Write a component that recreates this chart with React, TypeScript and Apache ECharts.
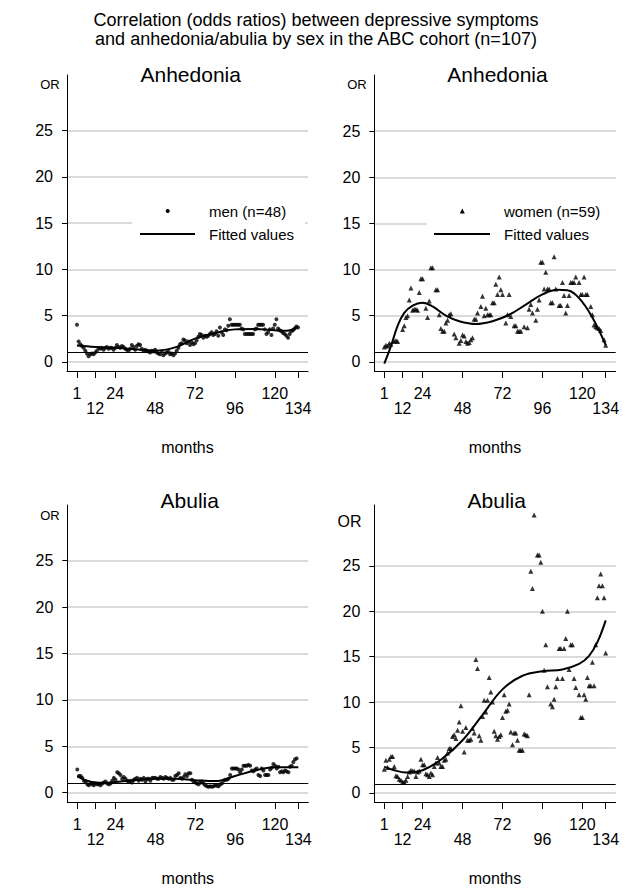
import React, { useEffect, useRef } from "react";
import * as echarts from "echarts";

const FONT = '"Liberation Sans", Arial, Helvetica, sans-serif';

const MAIN_TITLE = [
  "Correlation (odds ratios) between depressive symptoms",
  "and anhedonia/abulia by sex in the ABC cohort (n=107)",
];
const MONTH_TICKS = [1, 12, 24, 48, 72, 96, 120, 134];
const UPPER_ROW_TICKS = [1, 24, 72, 120];
const LOWER_ROW_TICKS = [12, 48, 96, 134];
const OR_TICKS = [0, 5, 10, 15, 20, 25];
const REF_OR = 1;
const MEN_NAME = "men (n=48)";
const WOMEN_NAME = "women (n=59)";
const FIT_NAME = "Fitted values";

// [month, OR]
const menAnhedonia: [number, number][] = [
  [1, 4.0], [2, 2.2], [3, 1.9], [4, 1.7], [5, 1.5], [6, 1.2], [7, 0.9], [8, 0.6], [9, 0.8], [10, 0.9],
  [11, 0.8], [12, 1.0], [13, 1.2], [14, 1.5], [15, 1.4], [16, 1.5], [17, 1.3], [18, 1.5], [19, 1.6], [20, 1.4],
  [21, 1.5], [22, 1.5], [23, 1.3], [24, 1.5], [25, 1.8], [26, 1.6], [27, 1.5], [28, 1.7], [29, 1.6], [30, 1.4],
  [31, 1.3], [32, 1.2], [33, 1.4], [34, 1.8], [35, 1.6], [36, 1.3], [37, 1.7], [38, 1.9], [39, 1.8], [40, 1.4],
  [41, 1.2], [42, 1.3], [43, 1.2], [44, 1.1], [45, 1.0], [46, 1.2], [47, 1.1], [48, 1.3], [49, 1.0], [50, 0.9],
  [51, 0.8], [52, 1.1], [53, 0.7], [54, 0.9], [55, 1.0], [56, 1.1], [57, 0.8], [58, 0.9], [59, 0.7], [60, 0.9],
  [61, 1.2], [62, 1.5], [63, 1.9], [64, 2.0], [65, 2.4], [66, 2.3], [67, 2.0], [68, 2.2], [69, 1.8], [70, 2.1],
  [71, 1.9], [72, 2.0], [73, 2.3], [74, 2.7], [75, 3.0], [76, 2.9], [77, 2.6], [78, 2.8], [79, 2.7], [80, 2.8],
  [81, 3.0], [82, 3.2], [83, 2.9], [84, 3.0], [85, 3.3], [86, 2.8], [87, 3.7], [88, 3.2], [89, 2.9], [90, 3.5],
  [91, 3.4], [92, 3.9], [93, 4.6], [94, 4.0], [95, 4.0], [96, 4.0], [97, 4.0], [98, 4.0], [99, 4.0], [100, 3.6],
  [101, 3.5], [102, 3.0], [103, 3.0], [104, 3.0], [105, 3.0], [106, 3.0], [107, 3.0], [108, 3.5], [109, 3.6], [110, 4.0],
  [111, 4.0], [112, 4.0], [113, 4.0], [114, 3.5], [115, 3.0], [116, 3.2], [117, 3.5], [118, 2.9], [119, 3.6], [120, 4.0],
  [121, 4.6], [122, 3.6], [123, 3.4], [124, 3.3], [125, 3.1], [126, 3.0], [127, 2.8], [128, 2.6], [129, 3.0], [130, 3.3],
  [131, 3.4], [132, 3.6], [133, 3.8], [134, 3.7],
];
const menAnhedoniaFit: [number, number][] = [
  [1, 1.75], [12, 1.6], [24, 1.5], [36, 1.35], [48, 1.2], [60, 1.55], [72, 2.5], [84, 3.1],
  [96, 3.5], [108, 3.55], [120, 3.4], [127, 3.35], [134, 3.8],
];

const womenAnhedonia: [number, number][] = [
  [1, 1.6], [2, 1.8], [3, 1.7], [4, 2.0], [5, 1.9], [7, 2.2], [8, 2.3], [9, 2.2], [12, 3.5], [13, 3.9],
  [14, 4.8], [15, 5.0], [16, 6.7], [17, 8.0], [18, 5.6], [19, 5.7], [20, 5.7], [21, 5.6], [22, 7.5], [23, 9.0],
  [24, 9.0], [26, 5.8], [27, 4.8], [28, 6.6], [29, 10.2], [30, 10.2], [32, 7.8], [33, 7.8], [34, 5.1], [35, 3.6],
  [36, 3.3], [37, 3.3], [38, 4.2], [39, 4.5], [40, 5.1], [41, 5.2], [43, 3.0], [44, 2.6], [46, 2.0], [47, 2.3],
  [48, 2.9], [49, 2.8], [50, 2.2], [51, 2.0], [52, 2.1], [53, 2.4], [54, 2.6], [55, 4.6], [56, 4.6], [57, 5.3],
  [59, 6.0], [60, 7.1], [61, 5.0], [62, 5.8], [63, 5.1], [64, 5.1], [65, 5.1], [66, 6.4], [67, 6.4], [68, 8.4],
  [69, 7.3], [70, 9.2], [71, 7.8], [72, 7.3], [74, 4.2], [75, 5.1], [76, 7.3], [77, 4.9], [79, 3.9], [80, 3.9],
  [81, 3.3], [82, 3.3], [83, 3.3], [85, 3.8], [87, 3.7], [88, 5.7], [89, 6.2], [90, 5.3], [92, 4.5], [93, 5.7],
  [94, 6.7], [95, 10.8], [96, 10.8], [97, 7.9], [98, 9.7], [99, 7.9], [100, 7.9], [101, 6.4], [102, 6.4], [103, 11.4],
  [104, 7.9], [106, 6.1], [107, 6.1], [108, 8.6], [109, 7.2], [110, 5.3], [111, 6.1], [112, 7.2], [113, 8.6], [114, 8.6],
  [115, 8.6], [116, 9.2], [118, 8.6], [119, 7.3], [120, 7.3], [121, 9.2], [122, 7.3], [123, 7.3], [125, 6.0], [126, 5.1],
  [127, 4.0], [128, 3.8], [129, 3.7], [130, 3.6], [131, 3.4], [133, 2.4], [134, 1.8],
];
const womenAnhedoniaFit: [number, number][] = [
  [1, -0.2], [5, 1.7], [9, 3.9], [13, 5.3], [18, 6.1], [24, 6.4], [30, 6.0], [38, 5.0], [46, 4.4],
  [56, 4.1], [66, 4.4], [76, 5.1], [86, 6.2], [96, 7.3], [105, 7.8], [111, 7.75], [118, 6.9], [126, 4.8], [134, 1.8],
];

const menAbulia: [number, number][] = [
  [1, 2.5], [2, 1.8], [3, 1.8], [4, 1.6], [5, 1.3], [6, 1.2], [7, 0.9], [8, 0.8], [9, 1.0], [10, 0.9],
  [11, 0.8], [12, 1.0], [13, 0.9], [14, 0.9], [15, 0.8], [16, 1.0], [17, 1.1], [18, 1.2], [19, 1.0], [20, 0.9],
  [21, 1.0], [22, 1.3], [23, 1.6], [24, 1.4], [25, 2.2], [26, 2.1], [27, 1.9], [28, 1.5], [29, 1.7], [30, 1.5],
  [31, 1.3], [32, 1.2], [33, 1.3], [34, 1.1], [35, 1.4], [36, 1.5], [37, 1.6], [38, 1.3], [39, 1.5], [40, 1.4],
  [41, 1.6], [42, 1.2], [43, 1.5], [44, 1.5], [45, 1.3], [46, 1.6], [47, 1.6], [48, 1.6], [49, 1.5], [50, 1.5],
  [51, 1.7], [52, 1.6], [53, 1.5], [54, 1.7], [55, 1.6], [56, 1.5], [57, 1.6], [58, 1.4], [59, 1.4], [60, 1.8],
  [61, 1.9], [62, 2.1], [63, 1.6], [64, 1.5], [65, 1.7], [66, 2.0], [67, 1.8], [68, 2.1], [69, 2.1], [70, 1.4],
  [71, 1.2], [72, 1.1], [73, 1.0], [74, 0.9], [75, 1.1], [76, 1.2], [77, 1.0], [78, 0.8], [79, 0.7], [80, 0.65],
  [81, 0.7], [82, 0.65], [83, 0.7], [84, 0.8], [85, 0.75], [86, 0.7], [87, 0.9], [88, 1.0], [89, 1.3], [90, 1.4],
  [91, 1.4], [92, 1.5], [93, 1.9], [94, 2.6], [95, 2.6], [96, 2.6], [97, 2.6], [98, 2.5], [99, 2.2], [100, 2.5],
  [101, 2.9], [102, 2.9], [103, 2.9], [104, 3.0], [105, 2.9], [106, 2.4], [107, 2.3], [108, 2.5], [109, 2.6], [110, 1.9],
  [111, 1.8], [112, 2.6], [113, 2.4], [114, 1.9], [115, 1.9], [116, 1.9], [117, 2.5], [118, 2.7], [119, 3.1], [120, 2.9],
  [121, 2.6], [122, 2.8], [123, 2.2], [124, 2.3], [125, 2.2], [126, 2.4], [127, 2.3], [128, 2.2], [129, 2.8], [130, 2.9],
  [131, 3.3], [132, 3.6], [133, 3.7],
];
const menAbuliaFit: [number, number][] = [
  [1, 1.75], [6, 1.35], [12, 1.1], [18, 1.05], [24, 1.15], [36, 1.35], [48, 1.5], [60, 1.5],
  [72, 1.35], [84, 1.25], [96, 1.8], [108, 2.4], [120, 2.75], [134, 2.75],
];

const womenAbulia: [number, number][] = [
  [1, 2.6], [2, 3.6], [3, 2.8], [4, 3.7], [5, 4.0], [6, 4.0], [7, 2.9], [8, 1.9], [9, 1.8], [10, 1.5],
  [11, 1.4], [12, 1.2], [13, 1.2], [14, 1.4], [15, 1.8], [16, 2.3], [17, 2.5], [18, 2.4], [19, 2.4], [20, 1.8],
  [21, 2.3], [22, 2.4], [23, 3.7], [24, 3.1], [25, 3.1], [26, 2.1], [27, 2.0], [28, 1.8], [29, 2.2], [30, 2.0],
  [31, 2.9], [32, 3.3], [33, 3.9], [34, 3.3], [35, 2.9], [36, 2.9], [37, 3.6], [38, 3.7], [39, 4.4], [40, 4.9],
  [41, 4.9], [42, 6.2], [43, 6.4], [44, 6.0], [45, 6.9], [46, 7.8], [47, 9.6], [48, 6.8], [49, 4.5], [50, 7.2],
  [51, 5.8], [52, 5.8], [53, 5.9], [54, 7.1], [55, 6.6], [56, 14.7], [57, 13.7], [58, 6.3], [59, 5.8], [60, 8.4],
  [61, 10.2], [62, 8.9], [63, 10.2], [64, 12.7], [65, 11.1], [66, 10.0], [67, 6.8], [68, 6.3], [69, 5.9], [70, 6.2],
  [71, 6.4], [72, 8.3], [73, 10.8], [74, 9.0], [75, 9.1], [76, 9.8], [77, 6.7], [78, 5.3], [79, 6.6], [80, 6.6],
  [81, 5.8], [82, 4.7], [83, 4.7], [84, 4.7], [85, 6.5], [86, 6.4], [87, 6.3], [88, 10.8], [89, 24.4], [90, 22.5],
  [91, 30.6], [93, 26.2], [94, 26.2], [95, 25.4], [96, 20.0], [97, 13.5], [98, 16.3], [99, 11.7], [101, 9.8], [102, 9.5],
  [103, 10.3], [104, 11.7], [105, 12.6], [106, 15.9], [107, 15.9], [108, 12.6], [109, 15.9], [110, 17.0], [111, 20.0], [112, 13.6],
  [113, 16.3], [114, 16.3], [115, 12.6], [116, 11.6], [118, 10.8], [119, 8.3], [120, 8.3], [121, 10.8], [122, 10.3], [123, 12.7],
  [124, 11.8], [125, 11.8], [126, 14.4], [127, 11.8], [128, 16.3], [129, 21.5], [130, 22.8], [131, 24.1], [132, 22.8], [133, 21.5],
  [134, 15.4],
];
const womenAbuliaFit: [number, number][] = [
  [1, 2.9], [7, 2.5], [14, 2.25], [24, 2.5], [36, 3.8], [48, 5.8], [60, 8.6], [72, 11.4], [84, 12.9],
  [96, 13.4], [108, 13.6], [118, 14.2], [124, 15.1], [129, 16.6], [134, 19.0],
];

const PANELS = [
  { title: "Anhedonia", name: MEN_NAME, points: menAnhedonia, fit: menAnhedoniaFit, symbol: "circle", size: 4,
    left: 67, top: 75, width: 241, height: 296, yMax: 31, titleX: 190.7, titleY: 74, orX: 50, orY: 84, orSize: 13,
    legend: { box: [132.3, 199, 172.7, 48], marker: [167.7, 211], line: [140, 195, 234], textX: 209 } },
  { title: "Anhedonia", name: WOMEN_NAME, points: womenAnhedonia, fit: womenAnhedoniaFit, symbol: "triangle", size: 5,
    left: 374.3, top: 75, width: 241.4, height: 296, yMax: 31.1, titleX: 497.5, titleY: 74, orX: 357, orY: 84, orSize: 13,
    legend: { box: [426.7, 199, 188.5, 48], marker: [462.3, 211], line: [434, 490, 234], textX: 504 } },
  { title: "Abulia", name: MEN_NAME, points: menAbulia, fit: menAbuliaFit, symbol: "circle", size: 4,
    left: 67.3, top: 505, width: 241, height: 297, yMax: 31, titleX: 189.7, titleY: 500, orX: 50, orY: 515, orSize: 13,
    legend: null },
  { title: "Abulia", name: WOMEN_NAME, points: womenAbulia, fit: womenAbuliaFit, symbol: "triangle", size: 5,
    left: 374.3, top: 505, width: 241.4, height: 297, yMax: 31.7, titleX: 496.7, titleY: 500, orX: 349.5, orY: 521.7, orSize: 16,
    legend: null },
];

function textEl(text: string, x: number, y: number, size: number, align = "center") {
  return {
    type: "text",
    x,
    y,
    silent: true,
    z: 10,
    style: {
      text,
      fill: "#000",
      font: `${size}px ${FONT}`,
      align,
      verticalAlign: "middle",
      textAlign: align,
      textVerticalAlign: "middle",
    },
  };
}

function legendEls(p: any) {
  const L = p.legend;
  const [bx, by, bw, bh] = L.box;
  const [mx, my] = L.marker;
  const [lx1, lx2, ly] = L.line;
  const els: any[] = [
    { type: "rect", silent: true, z: 9, shape: { x: bx, y: by, width: bw, height: bh }, style: { fill: "#fff" } },
    { type: "line", silent: true, z: 10, shape: { x1: lx1, y1: ly, x2: lx2, y2: ly }, style: { stroke: "#000", lineWidth: 2 } },
    textEl(p.name, L.textX, my, 15, "left"),
    textEl(FIT_NAME, L.textX, ly, 15, "left"),
  ];
  if (p.symbol === "circle") {
    els.push({ type: "circle", silent: true, z: 10, shape: { cx: mx, cy: my, r: p.size / 2 }, style: { fill: "#000" } });
  } else {
    const h = p.size / 2;
    els.push({
      type: "polygon", silent: true, z: 10,
      shape: { points: [[mx, my - h], [mx + h, my + h], [mx - h, my + h]] },
      style: { fill: "#000" },
    });
  }
  return els;
}

function buildOption() {
  const grid = PANELS.map((p) => ({
    left: p.left, top: p.top, width: p.width, height: p.height,
    containLabel: false, outerBoundsMode: "none",
  }));
  const xAxis: any[] = [];
  PANELS.forEach((p, i) => {
    // main month axis: line, all ticks, upper row of labels, axis title
    xAxis.push({
      type: "value", gridIndex: i, min: -5, max: 140, position: "bottom",
      axisLine: { show: true, onZero: false, lineStyle: { color: "#000", width: 1 } },
      axisTick: { show: true, customValues: MONTH_TICKS, length: 7, lineStyle: { color: "#000", width: 1 } },
      axisLabel: {
        customValues: UPPER_ROW_TICKS, hideOverlap: false,
        fontSize: 16, color: "#000", fontFamily: FONT, margin: 14,
      },
      splitLine: { show: false },
      name: "months", nameLocation: "middle", nameGap: 68, nameMoveOverlap: false,
      nameTextStyle: { fontSize: 16, color: "#000", fontFamily: FONT },
    });
    // companion axis carrying the staggered lower row of labels
    xAxis.push({
      type: "value", gridIndex: i, min: -5, max: 140, position: "bottom",
      axisLine: { show: false, onZero: false },
      axisTick: { show: false },
      axisLabel: {
        customValues: LOWER_ROW_TICKS, hideOverlap: false,
        fontSize: 16, color: "#000", fontFamily: FONT, margin: 29,
      },
      splitLine: { show: false },
    });
  });
  const yAxis = PANELS.map((p, i) => ({
    type: "value", gridIndex: i, min: -1, max: p.yMax,
    axisLine: { show: true, onZero: false, lineStyle: { color: "#000", width: 1 } },
    axisTick: { show: true, customValues: OR_TICKS, length: 5, lineStyle: { color: "#000", width: 1 } },
    axisLabel: { customValues: OR_TICKS, hideOverlap: false, fontSize: 16, color: "#000", fontFamily: FONT, margin: 14 },
    splitLine: { show: true, lineStyle: { color: "#cfcfcf", width: 1.5 } },
  }));
  const series: any[] = [];
  PANELS.forEach((p, i) => {
    series.push({
      type: "scatter", name: p.name, xAxisIndex: 2 * i, yAxisIndex: i,
      data: p.points, symbol: p.symbol, symbolSize: p.size,
      itemStyle: { color: "#000" }, z: 3,
      markLine: {
        silent: true, symbol: "none", label: { show: false },
        lineStyle: { color: "#000", width: 1.2, type: "solid" },
        emphasis: { disabled: true },
        data: [{ yAxis: REF_OR }],
      },
    });
    series.push({
      type: "line", name: FIT_NAME, xAxisIndex: 2 * i, yAxisIndex: i,
      data: p.fit, smooth: 0.4, symbol: "none", showSymbol: false,
      lineStyle: { color: "#000", width: 2 }, itemStyle: { color: "#000" }, z: 4,
    });
  });
  const graphic: any[] = [
    textEl(MAIN_TITLE[0], 316, 20, 18),
    textEl(MAIN_TITLE[1], 316, 39, 18),
  ];
  PANELS.forEach((p) => {
    graphic.push(textEl(p.title, p.titleX, p.titleY, 21));
    graphic.push(textEl("OR", p.orX, p.orY, p.orSize));
    if (p.legend) graphic.push(...legendEls(p));
  });
  return {
    animation: false,
    backgroundColor: "#fff",
    textStyle: { fontFamily: FONT },
    grid, xAxis, yAxis, series, graphic,
  };
}

export default function App() {
  const ref = useRef<HTMLDivElement>(null);
  useEffect(() => {
    if (!ref.current) return;
    const chart = echarts.init(ref.current, null, { renderer: "svg" });
    chart.setOption(buildOption() as any);
    return () => chart.dispose();
  }, []);
  return (
    <div
      ref={ref}
      style={{ position: "fixed", left: 0, top: 0, width: 633, height: 889, background: "#fff" }}
    />
  );
}
